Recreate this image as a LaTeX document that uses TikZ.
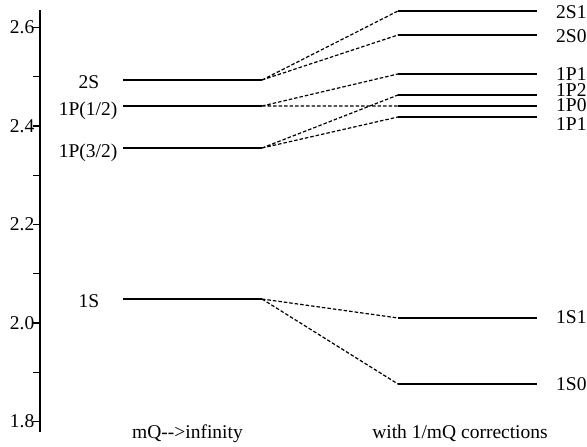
\documentclass[tikz,border=0pt]{standalone}
\usepackage{fontspec}
\setmainfont{Liberation Serif}
\tikzset{level line/.style={line width=1.6pt},
split line/.style={line width=1.2pt,dash pattern=on 3.5pt off 2pt},
tick line/.style={line width=1.2pt},
lbl/.style={font=\fontsize{19.5}{21}\selectfont,inner sep=0pt},
state lbl/.style={lbl,anchor=west,text height=12.6pt,text depth=0pt}}

\begin{document}
\begin{tikzpicture}[x=1pt,y=492.5pt]
    \useasboundingbox (0pt,0pt) rectangle (587pt,447pt);
    \begin{scope}[yshift=-861pt]
            % axis
            \coordinate (top) at (40,2.636);
            \coordinate (bot) at (40,1.779);
            \draw[line width=1.6pt] (bot)--(top);
            \foreach \v in {1.8,2.0,2.2,2.4,2.6}{
                \draw[tick line] (33,\v)--(40,\v);
                \node[lbl,anchor=east] at (34.5,\v) {\v};
            }
            \foreach \v in {1.9,2.1,2.3,2.5}
                \draw[tick line] (33,\v)--(40,\v);

            % mQ --> infinity
            \coordinate (2s) at (123,2.4934);
            \coordinate (1p12) at (123,2.4406);
            \coordinate (1p32) at (123,2.3553);
            \coordinate (1s) at (123,2.0487);
            \coordinate (2s') at (262,2.4934);
            \coordinate (1p12') at (262,2.4406);
            \coordinate (1p32') at (262,2.3553);
            \coordinate (1s') at (262,2.0487);

            % with 1/mQ corrections
            \coordinate (2s1) at (398,2.6335);
            \coordinate (2s0) at (398,2.5848);
            \coordinate (1p1a) at (398,2.5056);
            \coordinate (1p2) at (398,2.4629);
            \coordinate (1p0) at (398,2.4406);
            \coordinate (1p1b) at (398,2.4183);
            \coordinate (1s1) at (398,2.0102);
            \coordinate (1s0) at (398,1.8761);
            \coordinate (2s1') at (537,2.6335);
            \coordinate (2s0') at (537,2.5848);
            \coordinate (1p1a') at (537,2.5056);
            \coordinate (1p2') at (537,2.4629);
            \coordinate (1p0') at (537,2.4406);
            \coordinate (1p1b') at (537,2.4183);
            \coordinate (1s1') at (537,2.0102);
            \coordinate (1s0') at (537,1.8761);

            \path[draw,level line]
            (2s)--(2s') (1p12)--(1p12') (1p32)--(1p32') (1s)--(1s')
            (2s1)--(2s1') (2s0)--(2s0') (1p1a)--(1p1a') (1p2)--(1p2')
            (1p0)--(1p0') (1p1b)--(1p1b') (1s1)--(1s1') (1s0)--(1s0');

            \path[draw,split line]
            (2s')--(2s1) (2s')--(2s0)
            (1p12')--(1p1a) (1p12')--(1p0)
            (1p32')--(1p2) (1p32')--(1p1b)
            (1s')--(1s1) (1s')--(1s0);

            \node[lbl,anchor=base] (22) at (89,2.4934) [yshift=-9pt] {2S};
            \node[lbl,anchor=base] (33) at (88,2.4406) [yshift=-9pt] {1P(1/2)};
            \node[lbl,anchor=base] (44) at (88,2.3553) [yshift=-9pt] {1P(3/2)};
            \node[lbl,anchor=base] (11) at (89,2.0487) [yshift=-8pt] {1S};

            \node[state lbl] (2s1l) at (556,2.6315) {2S1};
            \node[state lbl] (2s0l) at (556,2.5827) {2S0};
            \node[state lbl] (1p1al) at (556,2.5046) {1P1};
            \node[state lbl] (1p2l) at (556,2.4731) {1P2};
            \node[state lbl] (1p0l) at (556,2.4416) {1P0};
            \node[state lbl] (1p1bl) at (556,2.4041) {1P1};
            \node[state lbl] (1s1l) at (556,2.0112) {1S1};
            \node[state lbl] (1s0l) at (556,1.8761) {1S0};

            \node[lbl,anchor=base] (left) at (187.5,1.7645) {mQ{-}{-}>infinity};
            \node[lbl,anchor=base] (right) at (460,1.7645) {with 1/mQ corrections};
    \end{scope}
\end{tikzpicture}
\end{document}
